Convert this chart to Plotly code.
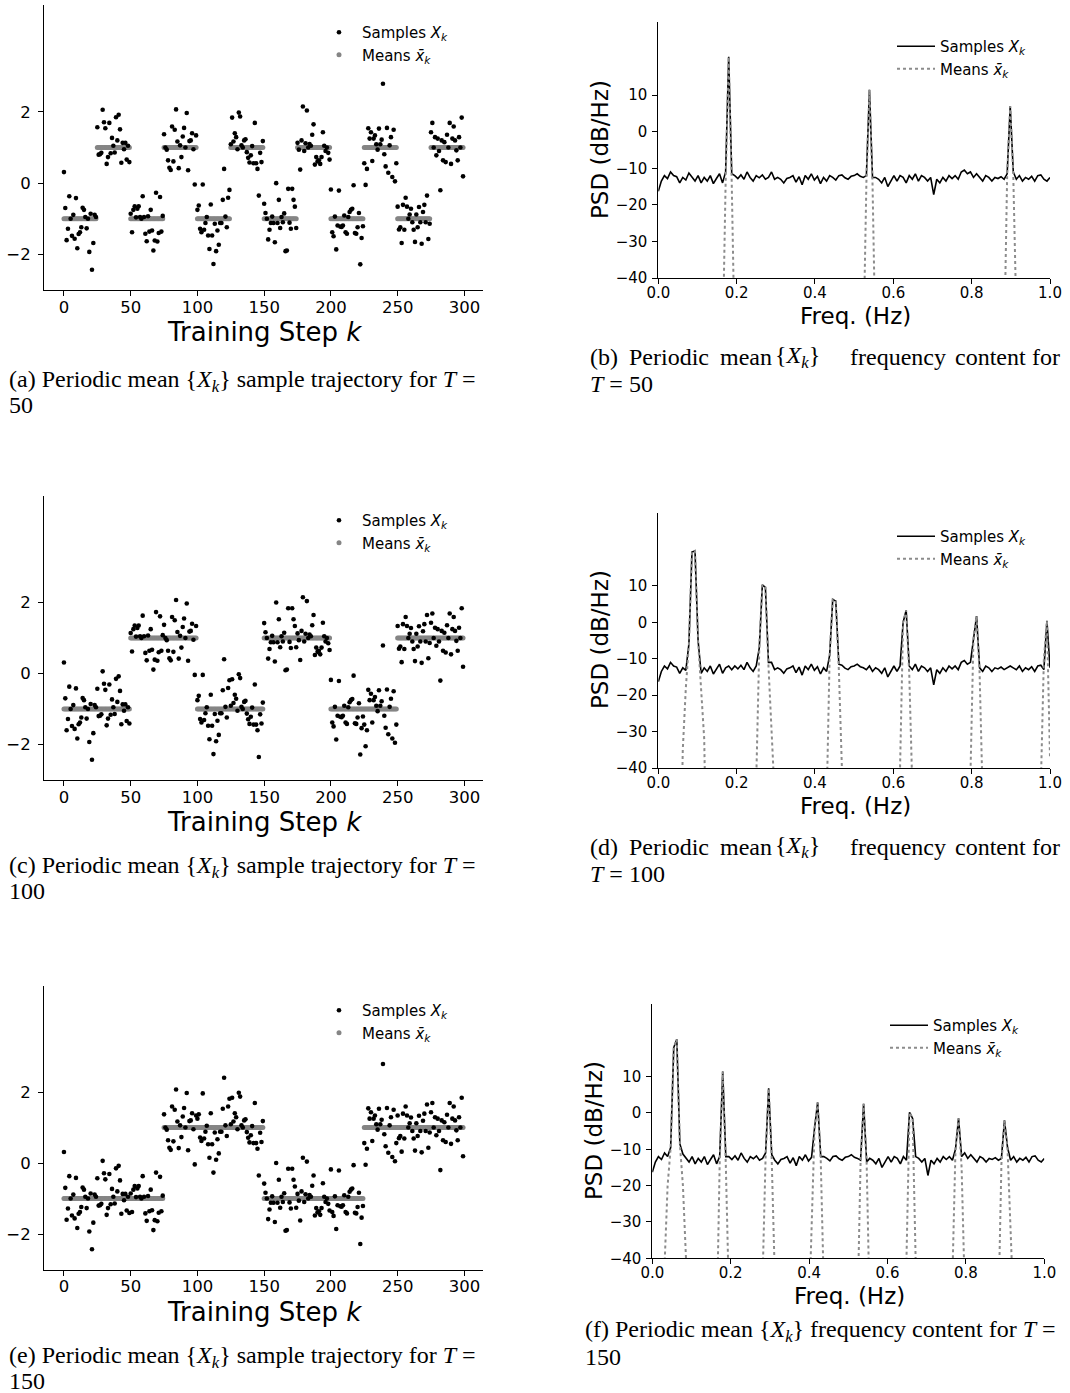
import plotly.graph_objects as go

W, H = 1070, 1393

# ---------------- data: sample trajectories ----------------
steps = list(range(300))
# samples (T = 50); the same noise realisation is used for T = 100, 150
samples_T50 = [
    0.31, -0.70, -1.60, -1.28, -0.37, -1.00, -1.48, -0.89, -1.56, -0.42, -1.83, -1.43, -1.38, -1.24, -0.69, -0.75, -0.95, -1.27, -1.00, -1.93, -0.86, -2.43, -1.68, -0.89, -0.95,
    1.57, 0.80, 0.81, 0.85, 2.06, 1.71, 1.54, 0.54, 0.73, 1.69, 0.84, 1.27, 1.05, 0.86, 1.85, 1.20, 1.92, 1.51, 0.57, 1.13, 0.95, 1.13, 0.66, 1.05, 0.59,
    -0.86, -1.38, -0.75, -0.65, -0.96, -0.72, -0.65, -0.95, -1.00, -0.37, -0.95, -1.42, -1.63, -0.93, -1.36, -0.75, -1.33, -1.89, -1.61, -0.27, -1.64, -1.40, -0.39, -1.36, -0.92,
    1.37, 1.00, 0.94, 0.64, 0.43, 0.37, 1.59, 0.61, 1.50, 2.07, 1.17, 0.42, 1.06, 0.73, 1.31, 1.55, 1.00, 1.97, 0.36, 1.18, 1.20, 1.40, 0.95, -0.04, 1.34,
    -0.75, -0.63, -1.28, -1.38, -0.04, -1.31, -1.12, -0.95, -1.47, -1.85, -0.60, -1.47, -2.27, -1.14, -1.91, -1.33, -1.73, -1.12, -1.12, -0.47, 0.40, -0.94, -1.24, -0.41, -0.19,
    1.09, 1.84, 1.17, 1.40, 1.29, 0.95, 1.98, 1.87, 1.06, 1.00, 1.20, 1.23, 0.87, 0.71, 0.58, 0.78, 1.04, 0.56, 1.69, 0.56, 0.40, -0.35, 0.85, 0.59, 1.18,
    -0.58, -0.84, -1.00, -1.58, -1.31, -1.12, -0.94, -1.12, -1.66, 0.00, -1.12, -0.47, -1.26, -0.95, -1.10, -0.85, -1.91, -1.89, -0.16, -1.11, -1.28, -0.16, -0.47, -0.66, -1.26,
    1.13, 0.94, 0.38, 1.20, 2.15, 0.90, 1.12, 2.04, 1.00, 1.10, 1.05, 1.36, 1.65, 0.52, 0.73, 0.61, 0.64, 0.54, 0.73, 1.43, 1.05, 0.90, 1.00, 0.85, 0.66,
    -0.18, -1.38, -1.49, -0.94, -1.86, -1.19, -0.21, -1.22, -1.23, -1.19, -0.91, -1.38, -1.42, -0.95, -0.81, -0.75, -0.72, -0.06, -1.40, -1.42, -1.24, -0.84, -2.28, -1.54, -1.21,
    0.56, -0.05, 0.40, 1.54, 1.25, 1.43, 0.62, 1.25, 1.34, 1.09, 0.94, 1.53, 1.09, 1.22, 2.79, 0.81, 0.47, 1.55, 0.29, 1.06, 1.29, 0.17, 1.50, 0.05, 0.56,
    -0.66, -1.30, -1.24, -1.68, -0.61, -1.31, -0.41, -0.66, -1.00, -0.88, -0.72, -1.10, -1.31, -1.65, -0.88, -1.24, -0.67, -1.10, -1.70, -0.81, -0.61, -1.10, -0.35, -1.57, -1.14,
    1.43, 1.69, 1.00, 1.29, 0.78, 1.25, 0.90, -0.20, 1.20, 0.64, 1.15, 0.59, 1.36, 1.00, 1.69, 0.54, 1.25, 1.59, 1.20, 0.92, 0.64, 1.29, 1.00, 1.84, 0.19,
]
# mean levels of each half period
mean_levels_T50 = [-1, 1, -1, 1, -1, 1, -1, 1, -1, 1, -1, 1]
mean_levels_T100 = [-1, 1, -1, 1, -1, 1]
mean_levels_T150 = [-1, 1, -1, 1]
x_ticks_steps = [0, 50, 100, 150, 200, 250, 300]
y_ticks_samples = [-2, 0, 2]

# ---------------- data: PSD ----------------
freq_bins = [i / 128 for i in range(129)]
psd_floor = [
    -16.3, -13.5, -12.0, -12.8, -11.0, -12.0, -12.3, -14.0, -12.5, -13.2, -11.3, -12.5, -13.5, -12.0, -14.0, -12.5,
    -13.5, -12.0, -14.2, -12.8, -11.5, -14.0, -12.5, -12.0, -13.0, -12.0, -12.8, -11.8, -13.0, -11.0, -12.5, -13.5,
    -12.0, -12.6, -11.8, -13.0, -12.5, -11.0, -13.0, -12.5, -13.0, -14.0, -12.8, -12.5, -12.0, -13.8, -12.3, -14.5,
    -12.0, -13.0, -11.5, -13.2, -12.2, -14.2, -12.5, -13.5, -12.0, -12.5, -13.2, -12.0, -11.8, -12.6, -13.0, -12.2,
    -12.0, -11.5, -12.2, -12.5, -13.0, -12.0, -13.5, -12.5, -13.0, -14.0, -12.5, -15.0, -13.5, -12.0, -13.5, -12.0,
    -12.5, -14.0, -12.0, -13.0, -11.5, -13.5, -12.0, -12.5, -13.5, -12.5, -17.2, -13.0, -14.0, -12.5, -13.5, -12.0,
    -12.8, -12.0, -13.0, -11.0, -10.5, -11.5, -11.0, -12.5, -11.5, -12.5, -13.5, -12.0, -12.5, -13.5, -12.5, -12.8,
    -12.3, -13.0, -12.5, -12.0, -12.5, -13.0, -12.0, -13.5, -12.5, -13.0, -12.2, -13.5, -12.0, -11.8, -13.0, -13.5,
    -12.5,
]
# sample-PSD values around the harmonic peaks (bin index -> dB/Hz)
peaks_T50 = {22: -11.0, 23: 20.5, 24: -11.5, 68: -12.0, 69: 11.5, 70: -12.5, 114: -11.5, 115: 7.0, 116: -11.0}
peaks_T100 = {10: -6.0, 11: 19.3, 12: 19.6, 13: -5.0, 33: -7.0, 34: 10.3, 35: 9.6, 36: -11.0,
              56: -9.0, 57: 6.3, 58: 5.8, 59: -11.5, 80: 0.0, 81: 3.3, 82: -12.0,
              103: -4.0, 104: 1.7, 105: -12.5, 127: 0.4}
peaks_T150 = {6: -9.5, 7: 18.0, 8: 20.3, 9: -8.5, 22: -12.0, 23: 11.4, 24: -12.0, 37: -11.0, 38: 6.8, 39: -11.5,
              53: -4.0, 54: 2.9, 55: -12.0, 69: 2.5, 84: 0.2, 85: -1.5, 99: -10.0, 100: -1.5, 101: -12.0,
              115: -2.0, 116: -9.5}
# mean-PSD values (bins not listed lie far below the axis: -100 dB/Hz)
means_psd_T50 = {21: -60, 22: -14, 23: 20.5, 24: -14, 25: -60, 67: -60, 68: -14, 69: 11.5, 70: -14, 71: -60,
                 113: -60, 114: -12, 115: 7.0, 116: -12, 117: -50}
means_psd_T100 = {7: -80, 8: -35, 9: -18, 10: -6, 11: 19.3, 12: 19.6, 13: -5, 14: -18, 15: -32, 16: -80,
                  31: -80, 32: -40, 33: -7, 34: 10.3, 35: 9.6, 36: -12, 37: -35, 38: -80,
                  54: -80, 55: -50, 56: -9, 57: 6.3, 58: 5.8, 59: -13, 60: -40, 61: -80,
                  78: -80, 79: -40, 80: 0.0, 81: 3.3, 82: -14, 83: -45, 84: -80,
                  101: -80, 102: -38, 103: -4, 104: 1.7, 105: -14, 106: -48, 107: -80,
                  124: -80, 125: -42, 126: -10, 127: 0.4, 128: -37}
means_psd_T150 = {3: -80, 4: -42, 5: -20, 6: -9.5, 7: 18.0, 8: 20.3, 9: -8.5, 10: -20, 11: -40, 12: -80,
                  21: -60, 22: -14, 23: 11.4, 24: -14, 25: -50,
                  35: -80, 36: -42, 37: -12, 38: 6.8, 39: -13, 40: -45, 41: -80,
                  51: -60, 52: -30, 53: -4, 54: 2.9, 55: -13, 56: -48,
                  67: -55, 68: -14, 69: 2.5, 70: -14, 71: -55,
                  82: -80, 83: -40, 84: 0.2, 85: -1.5, 86: -38, 87: -80,
                  97: -80, 98: -42, 99: -10, 100: -1.5, 101: -15, 102: -48,
                  112: -80, 113: -55, 114: -14, 115: -2, 116: -10, 117: -45}
x_ticks_freq = [0.0, 0.2, 0.4, 0.6, 0.8, 1.0]
y_ticks_psd = [-40, -30, -20, -10, 0, 10]

# ---------------- derived series ----------------
def expand(levels, half):
    return [levels[k // half] for k in steps]

means_T50 = expand(mean_levels_T50, 25)
means_T100 = expand(mean_levels_T100, 50)
means_T150 = expand(mean_levels_T150, 75)
noise = [s - m for s, m in zip(samples_T50, means_T50)]
samples_T100 = [m + e for m, e in zip(means_T100, noise)]
samples_T150 = [m + e for m, e in zip(means_T150, noise)]

def samples_psd(peaks):
    return [peaks.get(i, v) for i, v in enumerate(psd_floor)]

def means_psd(d):
    return [d.get(i, -100) for i in range(len(freq_bins))]

# ---------------- figure ----------------
fig = go.Figure()
SANS = "DejaVu Sans"
SERIF = "Liberation Serif"
LBL_S = "Samples <i>X</i><sub><i>k</i></sub>"
LBL_M = "Means <i>x̄</i><sub><i>k</i></sub>"

def dx(l, r):
    return [l / W, r / W]

def dy(t, b):
    return [1 - b / H, 1 - t / H]

axis_common = dict(showline=True, linecolor="black", linewidth=1, ticks="outside", ticklen=5,
                   tickwidth=1, tickcolor="black", showgrid=False, zeroline=False, mirror=False,
                   automargin=False)

panels = [
    ("traj", samples_T50, means_T50, dx(44, 483), dy(5, 290), 1),
    ("psd", samples_psd(peaks_T50), means_psd(means_psd_T50), dx(658.3, 1050), dy(22, 278), 2),
    ("traj", samples_T100, means_T100, dx(44, 483), dy(496, 780), 3),
    ("psd", samples_psd(peaks_T100), means_psd(means_psd_T100), dx(658.3, 1050), dy(513, 768), 4),
    ("traj", samples_T150, means_T150, dx(44, 483), dy(985.5, 1269.5), 5),
    ("psd", samples_psd(peaks_T150), means_psd(means_psd_T150), dx(652.3, 1044.3), dy(1004, 1258.3), 6),
]

legend_pos = {1: (316, 16), 2: (892, 30), 3: (316, 504), 4: (892, 520), 5: (316, 994), 6: (885, 1009)}

layout_axes = {}
for kind, s, m, xd, yd, n in panels:
    xa = "x" if n == 1 else f"x{n}"
    ya = "y" if n == 1 else f"y{n}"
    lg = "legend" if n == 1 else f"legend{n}"
    if kind == "traj":
        fig.add_trace(go.Scatter(x=steps, y=m, mode="markers", name=LBL_M, legend=lg,
                                 marker=dict(size=5, color="#858585"), xaxis=xa, yaxis=ya))
        fig.add_trace(go.Scatter(x=steps, y=s, mode="markers", name=LBL_S, legend=lg,
                                 marker=dict(size=4.6, color="black"), xaxis=xa, yaxis=ya))
        xr, yr = [-14.95, 313.95], [-3, 5]
        xt = dict(tickvals=x_ticks_steps, ticklabelstandoff=-3,
                  tickfont=dict(family=SANS, size=16.5, color="black"))
        yt = dict(tickvals=y_ticks_samples, ticklabelstandoff=4,
                  tickfont=dict(family=SANS, size=16.5, color="black"))
        order = "reversed"
        iw = 36
    else:
        fig.add_trace(go.Scatter(x=freq_bins, y=s, mode="lines", name=LBL_S, legend=lg,
                                 line=dict(color="black", width=1.6), xaxis=xa, yaxis=ya))
        fig.add_trace(go.Scatter(x=freq_bins, y=m, mode="lines", name=LBL_M, legend=lg,
                                 line=dict(color="#8c8c8c", width=2, dash="dot"), xaxis=xa, yaxis=ya))
        xr, yr = [0, 1], [-40, 30]
        xt = dict(tickvals=x_ticks_freq, ticktext=[f"{v:.1f}" for v in x_ticks_freq], ticklabelstandoff=-4,
                  tickfont=dict(family=SANS, size=15, color="black"))
        yt = dict(tickvals=y_ticks_psd, ticklabelstandoff=2,
                  tickfont=dict(family=SANS, size=15, color="black"))
        order = "normal"
        iw = 38
    layout_axes["xaxis" if n == 1 else f"xaxis{n}"] = dict(axis_common, domain=xd, range=xr,
                                                          anchor=ya, **xt)
    layout_axes["yaxis" if n == 1 else f"yaxis{n}"] = dict(axis_common, domain=yd, range=yr,
                                                          anchor=xa, **yt)
    lx, ly = legend_pos[n]
    layout_axes[lg] = dict(x=lx / W, y=1 - ly / H, xanchor="left", yanchor="top",
                           bgcolor="rgba(0,0,0,0)", traceorder=order, borderwidth=0, itemwidth=iw,
                           font=dict(family=SANS, size=15, color="black"))

fig.update_layout(template="none", width=W, height=H, margin=dict(l=0, r=0, t=0, b=0, pad=0),
                  paper_bgcolor="white", plot_bgcolor="white", showlegend=True,
                  font=dict(family=SANS, color="black"), **layout_axes)

ann = []

def text(x, y, t, size, family, xanchor="center", angle=0):
    ann.append(dict(x=x / W, y=1 - y / H, xref="paper", yref="paper", text=t, showarrow=False,
                    xanchor=xanchor, yanchor="middle", textangle=angle,
                    font=dict(family=family, size=size, color="black")))

# axis titles
for yc in (332, 822, 1312):
    text(264, yc, "Training Step <i>k</i>", 26, SANS)
text(855, 316, "Freq. (Hz)", 23, SANS)
text(855, 806, "Freq. (Hz)", 23, SANS)
text(849, 1296, "Freq. (Hz)", 23, SANS)
text(600, 150, "PSD (dB/Hz)", 23, SANS, angle=-90)
text(600, 640, "PSD (dB/Hz)", 23, SANS, angle=-90)
text(594, 1131, "PSD (dB/Hz)", 23, SANS, angle=-90)

# captions
XK = "{<i>X</i><sub><i>k</i></sub>}"
CAP = 24
for letter, val, y1 in (("a", "50", 381), ("c", "100", 867), ("e", "150", 1357)):
    text(7, y1, f"({letter}) Periodic mean {XK} sample trajectory for <i>T</i> =", CAP, SERIF, "left")
    text(7, y1 + 24, val, CAP, SERIF, "left")
words_x = [588, 627, 718, 773, 848, 953, 1030]
words = ["(b)", "Periodic", "mean", XK, "frequency", "content", "for"]
for letter, val, y1 in (("b", "50", 357), ("d", "100", 847)):
    for wx, w in zip(words_x, words):
        text(wx, y1, w if w != "(b)" else f"({letter})", CAP, SERIF, "left")
    text(588, y1 + 27, f"<i>T</i> = {val}", CAP, SERIF, "left")
text(583, 1331, f"(f) Periodic mean {XK} frequency content for <i>T</i> =", CAP, SERIF, "left")
text(583, 1357, "150", CAP, SERIF, "left")

fig.update_layout(annotations=ann)
fig.write_html("out.html")
